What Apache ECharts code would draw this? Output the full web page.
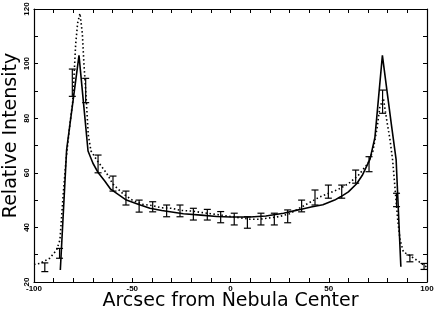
<!DOCTYPE html>
<html><head><meta charset="utf-8">
<script src="https://cdn.jsdelivr.net/npm/echarts@6/dist/echarts.min.js"></script>
<style>html,body{margin:0;padding:0;background:#fff}#c{width:436px;height:310px}</style>
</head><body><div id="c"></div>
<script>
// Model curve (solid)
var solidX = [-86.6,-83.4,-77.1,-74.8,-72.5,-70,-67.3,-64,-61,-57,-53,-47,-41,-35,-24,-15,-7,0,10,18,27,35,41,47,53,56,60,64.2,67,71,73.5,77.3,80,82,84.3,86.7];
var solidY = [24.4,68.4,103,85.5,68,63.5,60,57,54,52,50,48.5,47,46.2,45,44.5,44,43.8,43.8,44.2,45.2,46.5,47.5,48.3,50,51.2,53,56,59,65,73,103,88,77,64.7,25.6];
// Second profile (dotted)
var dotX = [-100,-97,-92,-88.5,-86.8,-85.1,-83.7,-81.7,-80.3,-78.8,-77.8,-76.6,-75.4,-74.6,-73.5,-72.4,-71,-68.1,-63,-60,-55,-50,-45,-40,-35,-30,-25,-20,-15,-10,-5,0,5,10,15,20,25,30,35,40,45,50,55,60,65,70,72.5,74.5,76,77.8,79.5,81.2,82.5,84,85.1,86.3,88,90.5,94.8,100];
var dotY = [26.4,26.8,28.7,31.7,35.4,52.5,64.7,78,86,107,114.8,118.4,111,100,88,74,68,64.7,59.8,56,52.5,50,48.5,48,47.2,47,46.2,46,45.5,45,44.5,44,43.5,43,43,43.5,44,45,47,49,51,52.5,54,56,59,63.5,68,76,84,87.3,79.3,72,64.7,52,42.7,35.4,31,30,28,25.4];
// Measurements with error bars
var errX    = [-94.5,-87,-80.5,-73.7,-67.4,-59.8,-53.2,-46.5,-39.6,-32.5,-25.7,-18.9,-11.8,-5,1.9,8.6,15.5,22.3,29.1,36.2,43,49.8,56.6,63.7,70.5,77.4,84.5,91.3,98.5];
var errLow  = [23.8,28.7,88,85.7,60,53.3,48.2,45.6,45.7,43.9,43.9,42.7,42.7,41.7,40.9,39.7,40.9,40.9,41.7,45.7,48.2,50.7,50.7,56.2,60.4,81.8,47.6,27.4,24.6];
var errHigh = [27,32.3,98,94.6,66.5,58.8,53.3,50,49.4,48.2,48.2,47,46.6,45.8,45.2,43.9,45.2,45.2,46.4,50,53.7,55.5,55.5,61,65.9,90.3,52.5,29.9,26.8];
var xTickLabels = [-100,-50,0,50,100];
var yTickLabels = [20,40,60,80,100,120];

var solidData = solidX.map(function(x,i){return [x, solidY[i]];});
var dotData = dotX.map(function(x,i){return [x, dotY[i]];});
var errData = errX.map(function(x,i){return [x, errLow[i], errHigh[i]];});

var font = 'Liberation Sans, Arial, sans-serif';
var titleFont = 'DejaVu Sans, sans-serif';
var chart = echarts.init(document.getElementById('c'));
function axisCommon(){
  return {
    axisLine:{show:true,onZero:false,lineStyle:{color:'#000',width:1.2}},
    axisTick:{show:true,inside:true,length:4,lineStyle:{color:'#000',width:1}},
    splitLine:{show:false}
  };
}
var xb = Object.assign(axisCommon(), {type:'value',min:-100,max:100,interval:10,position:'bottom',
  name:'Arcsec from Nebula Center',nameLocation:'middle',nameGap:10,nameMoveOverlap:false,
  nameTextStyle:{fontFamily:titleFont,fontSize:19,color:'#000'},
  axisLabel:{show:true,margin:3,fontSize:8,fontWeight:'bold',fontFamily:font,color:'#000',
    formatter:function(v){return xTickLabels.indexOf(v)>=0? String(v):'';}}});
var xt = Object.assign(axisCommon(), {type:'value',min:-100,max:100,interval:10,position:'top',axisLabel:{show:false}});
var yl = Object.assign(axisCommon(), {type:'value',min:20,max:120,interval:10,position:'left',
  name:'Relative Intensity',nameLocation:'middle',nameGap:13,nameMoveOverlap:false,
  nameTextStyle:{fontFamily:titleFont,fontSize:19,color:'#000',padding:[0,0,0,20]},
  axisLabel:{show:true,rotate:90,margin:3,fontSize:8,fontWeight:'bold',fontFamily:font,color:'#000',
    formatter:function(v){return yTickLabels.indexOf(v)>=0? String(v):'';}}});
var yr = Object.assign(axisCommon(), {type:'value',min:20,max:120,interval:10,position:'right',axisLabel:{show:false}});

chart.setOption({
  animation:false,
  backgroundColor:'#fff',
  grid:{left:34,right:9,top:9,bottom:28,containLabel:false,outerBoundsMode:'none'},
  xAxis:[xb, xt],
  yAxis:[yl, yr],
  series:[
    {type:'line',data:dotData,xAxisIndex:0,yAxisIndex:0,symbol:'none',
      lineStyle:{color:'#000',width:1.6,type:[1.5,2.5]}},
    {type:'line',data:solidData,xAxisIndex:0,yAxisIndex:0,symbol:'none',
      lineStyle:{color:'#000',width:1.6}},
    {type:'custom',data:errData,xAxisIndex:0,yAxisIndex:0,
      renderItem:function(params, api){
        var x = api.value(0), lo = api.value(1), hi = api.value(2);
        var pt = api.coord([x, hi]), pb = api.coord([x, lo]);
        var w = 3.5;
        var st = {stroke:'#000',lineWidth:1.2};
        return {type:'group',children:[
          {type:'line',shape:{x1:pt[0],y1:pt[1],x2:pb[0],y2:pb[1]},style:st},
          {type:'line',shape:{x1:pt[0]-w,y1:pt[1],x2:pt[0]+w,y2:pt[1]},style:st},
          {type:'line',shape:{x1:pb[0]-w,y1:pb[1],x2:pb[0]+w,y2:pb[1]},style:st}
        ]};
      }}
  ]
});
</script></body></html>
